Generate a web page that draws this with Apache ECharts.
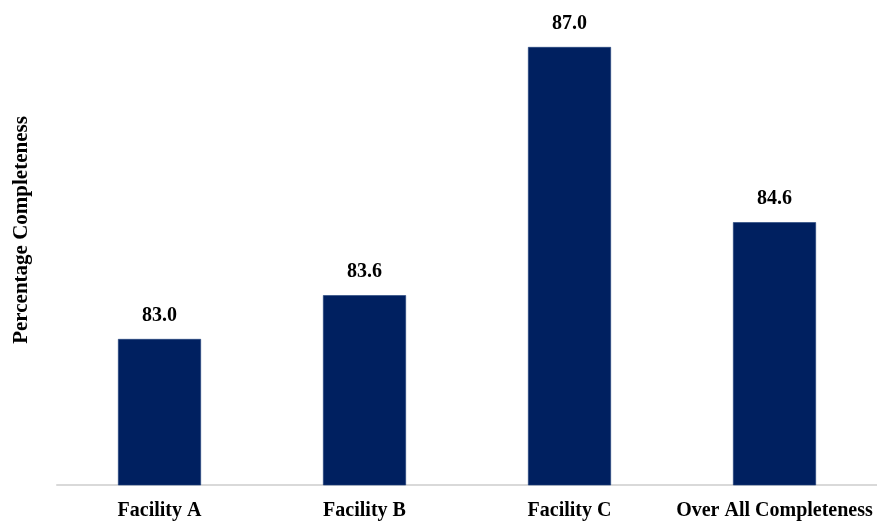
<!DOCTYPE html>
<html>
<head>
<meta charset="utf-8">
<script src="https://cdn.jsdelivr.net/npm/echarts@6/dist/echarts.min.js"></script>
<style>
  html, body { margin: 0; padding: 0; background: #fff; }
  #chart { width: 877px; height: 522px; }
</style>
</head>
<body>
<div id="chart"></div>
<script>
// Completeness by facility
const categories = ['Facility A', 'Facility B', 'Facility C', 'Over All Completeness'];
const completeness = [83.0, 83.6, 87.0, 84.6];
const yAxisTitle = 'Percentage Completeness';

const serif = '"Liberation Serif", "Times New Roman", serif';
const chart = echarts.init(document.getElementById('chart'));

chart.setOption({
  animation: false,
  backgroundColor: '#ffffff',
  grid: { left: 57, right: -2, top: 10.5, bottom: 37 },
  xAxis: {
    type: 'category',
    data: categories,
    axisLine: { show: true, lineStyle: { color: '#d9d9d9', width: 2 } },
    axisTick: { show: false },
    axisLabel: {
      interval: 0,
      hideOverlap: false,
      color: '#000',
      fontFamily: serif,
      fontWeight: 'bold',
      fontSize: 20,
      margin: 16
    }
  },
  yAxis: {
    type: 'value',
    min: 81,
    max: 87.5,
    show: false,
    splitLine: { show: false }
  },
  graphic: [{
    type: 'text',
    x: 22,
    y: 230,
    rotation: Math.PI / 2,
    style: {
      text: yAxisTitle,
      fill: '#000',
      font: 'bold 21px ' + serif,
      textAlign: 'center',
      textVerticalAlign: 'middle'
    }
  }],
  series: [{
    type: 'bar',
    data: completeness,
    barWidth: 83,
    itemStyle: { color: '#002060', borderColor: '#1f3f7a', borderWidth: 0.6 },
    label: {
      show: true,
      position: 'top',
      distance: 13,
      color: '#000',
      fontFamily: serif,
      fontWeight: 'bold',
      fontSize: 20,
      formatter: p => p.value.toFixed(1)
    }
  }]
});
</script>
</body>
</html>
